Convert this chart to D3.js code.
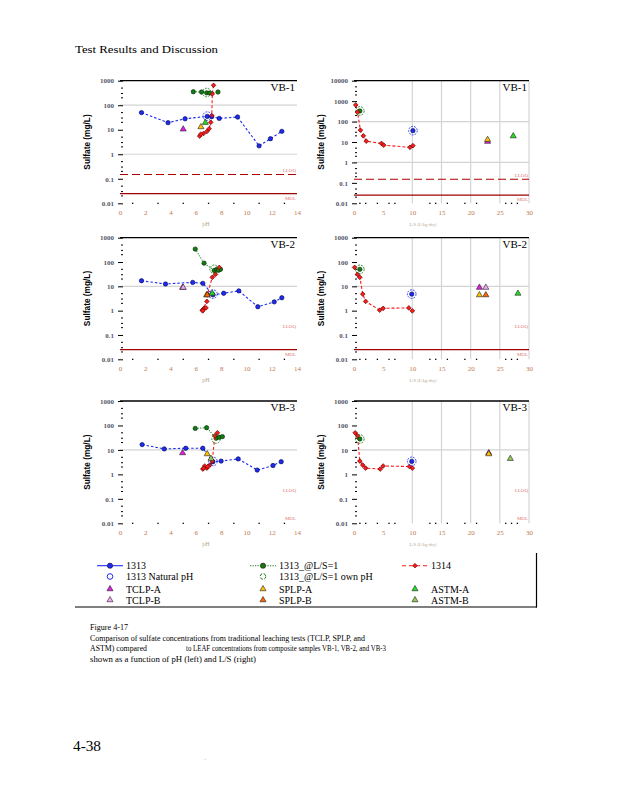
<!DOCTYPE html>
<html>
<head>
<meta charset="utf-8">
<script src="https://cdn.jsdelivr.net/npm/d3@7"></script>
<style>
  body { margin: 0; background: #fff; }
  svg { display: block; }
</style>
</head>
<body>
<svg id="page" width="618" height="800"></svg>
<script>
// ---- data ----
const samples = ["VB-1", "VB-2", "VB-3"];

// VB-1
const vb1_1313_pH  = [1.7, 3.8, 5.15, 6.9, 7.25, 7.85, 9.3, 11.0, 11.9, 12.8];
const vb1_1313_so4 = [50, 19.5, 28, 35, 34, 29, 33, 2.2, 4.3, 8.6];
const vb1_ls1_pH   = [5.8, 6.45, 6.85, 7.1, 7.75];
const vb1_ls1_so4  = [355, 345, 320, 315, 345];
const vb1_1314_ls  = [0.3, 0.6, 1.1, 1.6, 2.1, 4.7, 5.1, 9.6, 10.1];
const vb1_1314_pH  = [7.4, 7.3, 7.26, 7.18, 7.05, 6.87, 6.6, 6.3, 6.39];
const vb1_1314_so4 = [650, 290, 38, 20, 11, 8.5, 7.0, 5.5, 6.6];
const vb1_natural  = [6.9, 10.1, 36];   // pH, L/S, sulfate
const vb1_own      = [6.85, 1.0, 330];
const vb1_tests    = [["TCLP-A", 5.0, 22.9, 10.5], ["SPLP-A", 6.4, 22.9, 13], ["ASTM-A", 6.75, 27.3, 19.5]];

// VB-2
const vb2_1313_pH  = [1.7, 3.6, 5.75, 6.55, 7.35, 8.2, 9.4, 10.9, 12.2, 12.8];
const vb2_1313_so4 = [17, 12.5, 14.5, 13.3, 4.5, 5.2, 6.5, 1.45, 2.3, 3.4];
const vb2_ls1_pH   = [5.95, 6.65, 7.45, 7.65, 7.8, 7.95];
const vb2_ls1_so4  = [340, 90, 45, 50, 46, 50];
const vb2_1314_ls  = [0.1, 0.6, 1.0, 1.5, 2.0, 4.4, 5.0, 9.4, 10.0];
const vb2_1314_pH  = [7.85, 7.55, 7.3, 6.92, 6.87, 6.5, 6.65, 6.8, 6.55];
const vb2_1314_so4 = [60, 31, 23.5, 4.8, 2.4, 1.05, 1.25, 1.3, 0.98];
const vb2_natural  = [7.35, 9.9, 4.8];
const vb2_own      = [7.45, 1.0, 50];
const vb2_tests    = [["TCLP-A", 4.95, 21.5, 8.9], ["TCLP-B", 5.0, 22.6, 8.9], ["SPLP-A", 6.85, 21.5, 4.4],
                      ["SPLP-B", 6.9, 22.6, 4.4], ["ASTM-A", 7.3, 28.1, 5.1]];

// VB-3
const vb3_1313_pH  = [1.75, 3.5, 5.2, 6.55, 7.35, 8.0, 9.35, 10.85, 12.1, 12.75];
const vb3_1313_so4 = [16.5, 11, 11.7, 11.7, 3.3, 3.5, 4.3, 1.5, 2.3, 3.3];
const vb3_ls1_pH   = [5.95, 6.85, 7.6, 7.85, 8.1];
const vb3_ls1_so4  = [76, 81, 30, 33, 35];
const vb3_1314_ls  = [0.2, 0.6, 1.0, 1.5, 2.0, 4.5, 5.0, 9.5, 10.0];
const vb3_1314_pH  = [7.7, 7.5, 7.3, 7.1, 6.87, 6.55, 6.7, 6.95, 6.62];
const vb3_1314_so4 = [50, 38, 3.5, 2.4, 1.8, 1.65, 2.2, 2.1, 1.8];
const vb3_natural  = [7.35, 9.9, 3.4];
const vb3_own      = [7.6, 1.0, 28];
const vb3_tests    = [["TCLP-A", 4.95, 23.1, 7.5], ["SPLP-A", 6.9, 23.1, 6.8], ["ASTM-B", 7.2, 26.8, 4.4]];

const LLOQ = 0.15, MDL = 0.025;
const pHTicks = [0, 2, 4, 6, 8, 10, 12, 14];
const lsTicks = [0, 5, 10, 15, 20, 25, 30];

// tables built from the arrays above
const zip = (a, b) => a.map((v, i) => [v, b[i]]);
const data = {
  "VB-1": {m1313: zip(vb1_1313_pH, vb1_1313_so4), ls1: zip(vb1_ls1_pH, vb1_ls1_so4),
           m1314pH: zip(vb1_1314_pH, vb1_1314_so4), m1314ls: zip(vb1_1314_ls, vb1_1314_so4),
           nat: vb1_natural, own: vb1_own, tests: vb1_tests},
  "VB-2": {m1313: zip(vb2_1313_pH, vb2_1313_so4), ls1: zip(vb2_ls1_pH, vb2_ls1_so4),
           m1314pH: zip(vb2_1314_pH, vb2_1314_so4), m1314ls: zip(vb2_1314_ls, vb2_1314_so4),
           nat: vb2_natural, own: vb2_own, tests: vb2_tests},
  "VB-3": {m1313: zip(vb3_1313_pH, vb3_1313_so4), ls1: zip(vb3_ls1_pH, vb3_ls1_so4),
           m1314pH: zip(vb3_1314_pH, vb3_1314_so4), m1314ls: zip(vb3_1314_ls, vb3_1314_so4),
           nat: vb3_natural, own: vb3_own, tests: vb3_tests}
};

// ---- styles ----
const BLUE = "#1c2cf0", GREEN = "#137a13", RED = "#ff1a1a";
const testColor = {"TCLP-A": "#e21ee2", "TCLP-B": "#f2a6f2", "SPLP-A": "#ffc000",
                   "SPLP-B": "#ff6400", "ASTM-A": "#22dd22", "ASTM-B": "#98c85a"};
const serif = "'Liberation Serif', 'DejaVu Serif', serif";
const sans = "'Liberation Sans', Arial, sans-serif";

const svg = d3.select("#page");

const cols = [
  {x0: 120, x1: 297, dom: [0, 14], ticks: pHTicks, dots: [1, 3, 5, 7, 9, 11, 13], title: "pH", tx: 206, tsize: 6},
  {x0: 354, x1: 529, dom: [0, 30], ticks: lsTicks, dots: [1, 2, 4, 6, 7, 13, 14, 16, 19, 21, 26, 27, 28],
   title: "L/S (L/kg-dry)", tx: 423, tsize: 4.6}
];
const rows = [
  {y0: 80.7, y1: 203.3, hgrid: [100, 1], lloqLine: true, mdlLine: true},
  {y0: 237.7, y1: 359.3, hgrid: [10], lloqLine: false, mdlLine: true},
  {y0: 401, y1: 523.3, hgrid: [10], lloqLine: false, mdlLine: false}
];

const sym = (type, size) => d3.symbol().type(type).size(size)();

function drawPanel(ri, ci) {
  const R = rows[ri], C = cols[ci], d = data[samples[ri]];
  const top = (ri === 0 && ci === 1) ? 10000 : 1000;
  const x = d3.scaleLinear().domain(C.dom).range([C.x0, C.x1]);
  const y = d3.scaleLog().domain([0.01, top]).range([R.y1, R.y0]);
  const g = svg.append("g");

  // grid
  g.selectAll(".hg").data(R.hgrid).join("line")
    .attr("x1", C.x0).attr("x2", C.x1)
    .attr("y1", v => y(v)).attr("y2", v => y(v))
    .attr("stroke", "#d4d4d4").attr("stroke-width", 1.2);
  if (ci === 1) {
    g.selectAll(".vg").data([10, 15, 20, 25, 30]).join("line")
      .attr("x1", v => x(v)).attr("x2", v => x(v))
      .attr("y1", R.y0).attr("y2", R.y1)
      .attr("stroke", "#d4d4d4").attr("stroke-width", 1.2);
  }
  g.append("line").attr("x1", C.x0).attr("x2", C.x1).attr("y1", R.y0).attr("y2", R.y0)
    .attr("stroke", "#000").attr("stroke-width", 1.3);

  // LLOQ / MDL
  if (R.lloqLine) {
    g.append("line").attr("x1", C.x0).attr("x2", C.x1).attr("y1", y(LLOQ)).attr("y2", y(LLOQ))
      .attr("stroke", "#b00000").attr("stroke-width", 1.1).attr("stroke-dasharray", "8,4");
  }
  if (R.mdlLine) {
    g.append("line").attr("x1", C.x0).attr("x2", C.x1).attr("y1", y(MDL)).attr("y2", y(MDL))
      .attr("stroke", "#a00000").attr("stroke-width", 1.2);
  }
  g.append("text").attr("x", C.x1 - 1).attr("y", y(LLOQ) - 2.5).attr("text-anchor", "end")
    .attr("font-family", serif).attr("font-size", 5).attr("fill", "#e07a7a").text("LLOQ");
  g.append("text").attr("x", C.x1 - 1).attr("y", y(MDL) + 6).attr("text-anchor", "end")
    .attr("font-family", serif).attr("font-size", 5).attr("fill", "#e07a7a").text("MDL");

  // y axis
  const decades = d3.range(-2, Math.round(Math.log10(top)) + 1).map(e => Math.pow(10, e));
  const yAxis = d3.axisLeft(y).tickValues(decades)
    .tickFormat(v => v >= 1 ? String(Math.round(v)) : (v > 0.05 ? "0.1" : "0.01"))
    .tickSize(-3).tickPadding(6);
  const ya = g.append("g").attr("transform", `translate(${C.x0},0)`).call(yAxis);
  ya.select(".domain").remove();
  ya.selectAll("line").attr("stroke", "#000").attr("x1", -2).attr("stroke-width", 1);
  ya.selectAll("text").attr("font-family", serif).attr("font-size", 7).attr("font-weight", "bold")
    .attr("fill", "#55566a");
  const minors = decades.slice(0, -1).flatMap(v => [2, 3, 5].map(m => m * v));
  g.selectAll(".mt").data(minors).join("line")
    .attr("x1", C.x0 + 1).attr("x2", C.x0 + 3)
    .attr("y1", v => y(v)).attr("y2", v => y(v))
    .attr("stroke", "#000").attr("stroke-width", 1);

  // x axis
  const xAxis = d3.axisBottom(x).tickValues(C.ticks).tickSize(0).tickPadding(6.5);
  const xa = g.append("g").attr("transform", `translate(0,${R.y1})`).call(xAxis);
  xa.select(".domain").remove();
  xa.selectAll("text").attr("font-family", serif).attr("font-size", 7).attr("fill", "#c07850");
  g.selectAll(".xd").data(C.dots).join("rect")
    .attr("x", v => x(v) - 0.6).attr("y", R.y1 - 0.6).attr("width", 1.3).attr("height", 1.3)
    .attr("fill", "#000");

  // titles
  g.append("text")
    .attr("transform", `translate(${C.x0 - 30},${(R.y0 + R.y1) / 2}) rotate(-90)`)
    .attr("text-anchor", "middle").attr("font-family", sans).attr("font-weight", "bold")
    .attr("font-size", 8.3).attr("fill", "#000").text("Sulfate (mg/L)");
  g.append("text").attr("x", C.tx).attr("y", R.y1 + 22.5).attr("text-anchor", "middle")
    .attr("font-family", serif).attr("font-size", C.tsize).attr("fill", "#b8a890").text(C.title);
  g.append("text").attr("x", C.x1 - 2).attr("y", R.y0 + 10).attr("text-anchor", "end")
    .attr("font-family", serif).attr("font-size", 11).attr("fill", "#000").text(samples[ri]);

  const line = d3.line().x(p => x(p[0])).y(p => y(p[1]));
  const ring = (cx, cy, color) => g.append("circle").attr("cx", cx).attr("cy", cy).attr("r", 4.3)
    .attr("fill", "none").attr("stroke", color).attr("stroke-width", 0.9).attr("stroke-dasharray", "1.8,1.2");
  const dot = (pts, color, edge) => g.append("g").selectAll("path").data(pts).join("path")
    .attr("d", sym(d3.symbolCircle, 15))
    .attr("transform", p => `translate(${x(p[0])},${y(p[1])})`)
    .attr("fill", color).attr("stroke", edge).attr("stroke-width", 0.6);
  const diamonds = pts => g.append("g").selectAll("path").data(pts).join("path")
    .attr("d", sym(d3.symbolSquare, 11))
    .attr("transform", p => `translate(${x(p[0])},${y(p[1])}) rotate(45)`)
    .attr("fill", RED).attr("stroke", "#500000").attr("stroke-width", 0.6);

  if (ci === 0) {
    g.append("path").datum(d.m1313).attr("d", line).attr("fill", "none")
      .attr("stroke", BLUE).attr("stroke-width", 1.1).attr("stroke-dasharray", "2.5,2");
    g.append("path").datum(d.ls1).attr("d", line).attr("fill", "none")
      .attr("stroke", GREEN).attr("stroke-width", 1.1).attr("stroke-dasharray", "1,1.5");
    dot(d.ls1, GREEN, "#002800");
    g.append("path").datum(d.m1314pH).attr("d", line).attr("fill", "none")
      .attr("stroke", RED).attr("stroke-width", 1.1).attr("stroke-dasharray", "3,2");
    dot(d.m1313, BLUE, "#000050");
    diamonds(d.m1314pH);
    ring(x(d.nat[0]), y(d.nat[2]), BLUE);
    ring(x(d.own[0]), y(d.own[2]), GREEN);
  } else {
    g.append("path").datum(d.m1314ls).attr("d", line).attr("fill", "none")
      .attr("stroke", RED).attr("stroke-width", 1.1).attr("stroke-dasharray", "3,2");
    dot([[d.own[1], d.own[2]]], GREEN, "#002800");
    dot([[d.nat[1], d.nat[2]]], BLUE, "#000050");
    diamonds(d.m1314ls);
    ring(x(d.nat[1]), y(d.nat[2]), BLUE);
    ring(x(d.own[1]), y(d.own[2]), GREEN);
  }
  const xi = ci === 0 ? 1 : 2;
  g.append("g").selectAll("path").data(d.tests).join("path")
    .attr("d", sym(d3.symbolTriangle, 16))
    .attr("transform", t => `translate(${x(t[xi])},${y(t[3])})`)
    .attr("fill", t => testColor[t[0]]).attr("stroke", "#202020").attr("stroke-width", 0.6);
}

for (let r = 0; r < 3; r++) for (let c = 0; c < 2; c++) drawPanel(r, c);

// ---- legend ----
const legendCols = [97, 250, 402];
const legendRows = [565.7, 576.5, 589, 600];
const legendItems = [
  {label: "1313", c: 0, r: 0, type: "line", color: BLUE, dash: null, mark: "circle"},
  {label: "1313_@L/S=1", c: 1, r: 0, type: "line", color: GREEN, dash: "1.2,1.3", mark: "circle"},
  {label: "1314", c: 2, r: 0, type: "line", color: RED, dash: "4,3", mark: "diamond"},
  {label: "1313 Natural pH", c: 0, r: 1, type: "ring", color: BLUE},
  {label: "1313_@L/S=1 own pH", c: 1, r: 1, type: "ring", color: GREEN},
  {label: "TCLP-A", c: 0, r: 2, type: "tri"}, {label: "SPLP-A", c: 1, r: 2, type: "tri"},
  {label: "ASTM-A", c: 2, r: 2, type: "tri"}, {label: "TCLP-B", c: 0, r: 3, type: "tri"},
  {label: "SPLP-B", c: 1, r: 3, type: "tri"}, {label: "ASTM-B", c: 2, r: 3, type: "tri"}
];
const lg = svg.append("g");
legendItems.forEach(it => {
  const lx = legendCols[it.c], ly = legendRows[it.r], cx = lx + 13;
  if (it.type === "line") {
    lg.append("line").attr("x1", lx).attr("x2", lx + 26).attr("y1", ly).attr("y2", ly)
      .attr("stroke", it.color).attr("stroke-width", 1.1).attr("stroke-dasharray", it.dash);
    const shape = it.mark === "circle" ? sym(d3.symbolCircle, 22) : sym(d3.symbolSquare, 11);
    lg.append("path").attr("d", shape)
      .attr("transform", `translate(${cx},${ly})` + (it.mark === "circle" ? "" : " rotate(45)"))
      .attr("fill", it.mark === "circle" ? it.color : RED).attr("stroke", "#300000").attr("stroke-width", 0.5);
  } else if (it.type === "ring") {
    lg.append("circle").attr("cx", cx).attr("cy", ly).attr("r", 2.8).attr("fill", "none")
      .attr("stroke", it.color).attr("stroke-width", 1).attr("stroke-dasharray", it.color === GREEN ? "3,1.5" : null);
  } else {
    lg.append("path").attr("d", sym(d3.symbolTriangle, 16)).attr("transform", `translate(${cx},${ly})`)
      .attr("fill", testColor[it.label]).attr("stroke", "#202020").attr("stroke-width", 0.6);
  }
  lg.append("text").attr("x", lx + 29).attr("y", ly + 3.5).attr("font-family", serif)
    .attr("font-size", 10).attr("fill", "#000").text(it.label);
});
lg.append("line").attr("x1", 536.5).attr("x2", 536.5).attr("y1", 553).attr("y2", 607.5)
  .attr("stroke", "#000").attr("stroke-width", 1.2);
lg.append("line").attr("x1", 75).attr("x2", 537).attr("y1", 607).attr("y2", 607)
  .attr("stroke", "#000").attr("stroke-width", 1.2);

// ---- page text ----
const pageText = (t, px, py, size, len) => {
  const el = svg.append("text").attr("x", px).attr("y", py).attr("font-family", serif)
    .attr("font-size", size).attr("fill", "#000").text(t);
  if (len) el.attr("textLength", len).attr("lengthAdjust", "spacingAndGlyphs");
  return el;
};
pageText("Test Results and Discussion", 75, 53, 11, 143);
pageText("Figure 4-17", 90, 630, 8, 38);
pageText("Comparison of sulfate concentrations from traditional leaching tests (TCLP, SPLP, and", 90, 640.5, 8, 275);
pageText("ASTM) compared", 90, 651, 8, 57);
pageText("to LEAF concentrations from composite samples VB-1, VB-2, and VB-3", 186, 651, 8, 200);
pageText("shown as a function of pH (left) and L/S (right)", 90, 662, 8, 166);
pageText("4-38", 73, 751, 15, 28);
svg.append("text").attr("x", 200).attr("y", 761).attr("font-family", sans).attr("font-size", 4)
  .attr("fill", "#999").text("ˈ    ·  ‹");
</script>
</body>
</html>
